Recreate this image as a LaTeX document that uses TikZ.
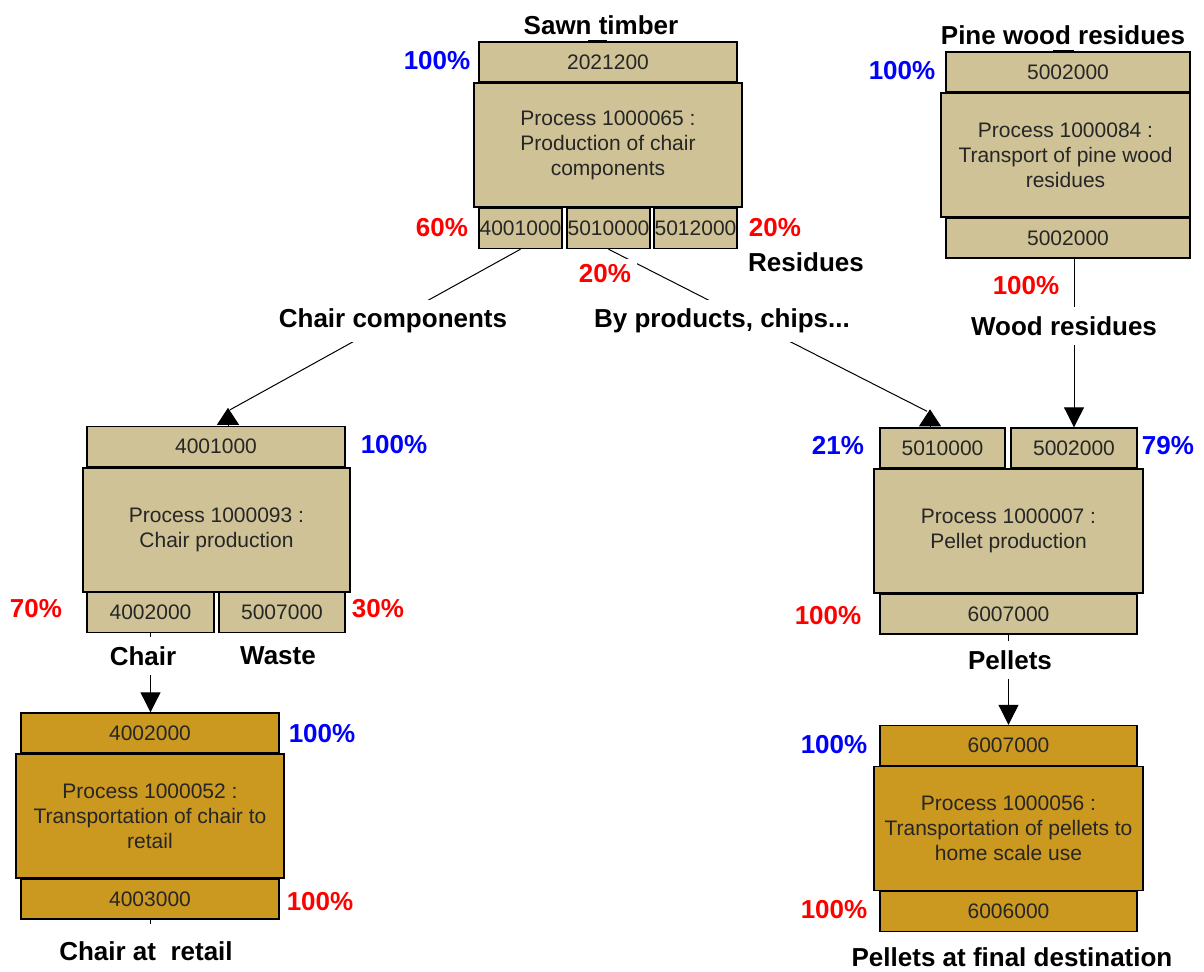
\documentclass[tikz,border=0pt]{standalone}
\usepackage{fontspec}
\setmainfont{Liberation Sans}
\usetikzlibrary{arrows.meta}

\definecolor{boxtan}{RGB}{206,194,150}
\definecolor{boxgold}{RGB}{203,152,32}

\tikzset{
  flowbox/.style={draw, line width=0.7pt, fill=boxtan, inner sep=0pt, align=center,
    font=\fontsize{10.5}{12.5}\selectfont, text=black!85},
  io/.style={flowbox, minimum height=20pt},
  proc/.style={flowbox, minimum height=62pt},
  lbl/.style={font=\fontsize{13}{15}\bfseries\selectfont, inner sep=1pt},
  gap/.style={lbl, fill=white, inner xsep=3pt, inner ysep=4.5pt},
  inpct/.style={lbl, text=blue},
  outpct/.style={lbl, text=red},
  downtip/.style={-{Triangle[width=10pt,length=10pt]}},
  uptip/.style={-{Triangle[width=11pt,length=8.5pt]}},
}

\begin{document}
\begin{tikzpicture}[x=0.5pt, y=-0.5pt, line width=0.5pt]
  \useasboundingbox (0,0) rectangle (1204,971);

  % production of chair components
  \node[io, minimum width=129pt] (a0) at (608,62) {2021200};
  \node[proc, minimum width=134pt] (a) at (608,145) {Process 1000065 :\\Production of chair\\components};
  \foreach \n/\x/\t in {1/520.5/4001000, 2/608.5/5010000, 3/695.5/5012000}
    \node[io, minimum width=41.5pt] (a\n) at (\x,228.5) {\t};

  % transport of pine wood residues
  \node[io, minimum width=122pt] (b0) at (1068,72) {5002000};
  \node[proc, minimum width=124.5pt] (b) at (1065.5,155) {Process 1000084 :\\Transport of pine wood\\residues};
  \node[io, minimum width=122pt] (b1) at (1068,238) {5002000};

  % chair production
  \node[io, minimum width=129pt] (c0) at (216,446.5) {4001000};
  \node[proc, minimum width=133.5pt] (c) at (216.5,530) {Process 1000093 :\\Chair production};
  \node[io, minimum width=63.5pt] (c1) at (150.5,612.5) {4002000};
  \node[io, minimum width=63pt] (c2) at (282,612.5) {5007000};

  % pellet production
  \node[io, minimum width=62.5pt] (d1) at (942.5,448) {5010000};
  \node[io, minimum width=63pt] (d2) at (1074,448) {5002000};
  \node[proc, minimum width=134.5pt] (d) at (1008.5,531) {Process 1000007 :\\Pellet production};
  \node[io, minimum width=128.5pt] (d0) at (1008.5,614) {6007000};

  % transports to retail / home
  \node[io, fill=boxgold, minimum width=129pt] (e0) at (150,733) {4002000};
  \node[proc, fill=boxgold, minimum width=134pt] (e) at (150,816) {Process 1000052 :\\Transportation of chair to\\retail};
  \node[io, fill=boxgold, minimum width=129pt] (e1) at (150,899) {4003000};

  \node[io, fill=boxgold, minimum width=128.5pt] (f0) at (1008.5,745.5) {6007000};
  \node[proc, fill=boxgold, minimum width=134.5pt] (f) at (1008.5,828.5) {Process 1000056 :\\Transportation of pellets to\\home scale use};
  \node[io, fill=boxgold, minimum width=128.5pt] (f1) at (1008.5,911.5) {6006000};

  % flows
  \draw (a1.south) -- ([xshift=7pt,yshift=8pt]c0.north);
  \draw[uptip] ([xshift=6pt]c0.north) -- ++(0,-18);
  \draw (a2.south) -- ([xshift=-7.75pt,yshift=8pt]d1.north);
  \draw[uptip] ([xshift=-6.25pt]d1.north) -- ++(0,-18);
  \draw[downtip] (b1.south -| d2.north) -- (d2.north);
  \draw[downtip] (c1.south) -- (c1.south |- e0.north);
  \draw[downtip] (d0.south) -- (f0.north);
  \draw (e1.south) -- ++(0,4);
  \draw[line width=1.5pt] ([xshift=-0.5pt]a0.north) -- ++(-19,0);
  \draw[line width=1.5pt] ([xshift=3pt]b0.north) -- ++(-21,0);

  % flow names
  \node[lbl] (sawn) at (601,25) {Sawn timber};
  \node[lbl] (pine) at (1063,35) {Pine wood residues};
  \node[lbl] (resid) at (806,262) {Residues};
  \node[gap] (compo) at (393,321) {Chair components};
  \node[gap] (byprod) at (722,321) {By products, chips...};
  \node[gap] (woodres) at (1064,326) {Wood residues};
  \node[gap] (chair) at (143,656) {Chair};
  \node[lbl] (waste) at (278,656) {Waste};
  \node[gap] (pellets) at (1010,660) {Pellets};
  \node[lbl] (retail) at (146,951) {Chair at\ \ retail};
  \node[lbl] (final) at (1012,957) {Pellets at final destination};

  % shares
  \node[inpct] (a0pct) at (437,61) {100\%};
  \node[outpct] (a1pct) at (442,228) {60\%};
  \node[outpct, fill=white, inner sep=3pt] (a2pct) at (605,274) {20\%};
  \node[outpct] (a3pct) at (775,228) {20\%};
  \node[inpct] (b0pct) at (902,71) {100\%};
  \node[outpct] (b1pct) at (1026,286) {100\%};
  \node[inpct] (c0pct) at (394,445) {100\%};
  \node[outpct] (c1pct) at (36,609) {70\%};
  \node[outpct] (c2pct) at (378,609) {30\%};
  \node[inpct] (d1pct) at (838,446) {21\%};
  \node[inpct] (d2pct) at (1168,446) {79\%};
  \node[outpct] (d0pct) at (828,616) {100\%};
  \node[inpct] (e0pct) at (322,734) {100\%};
  \node[outpct] (e1pct) at (320,902) {100\%};
  \node[inpct] (f0pct) at (834,745) {100\%};
  \node[outpct] (f1pct) at (834,910) {100\%};
\end{tikzpicture}
\end{document}
